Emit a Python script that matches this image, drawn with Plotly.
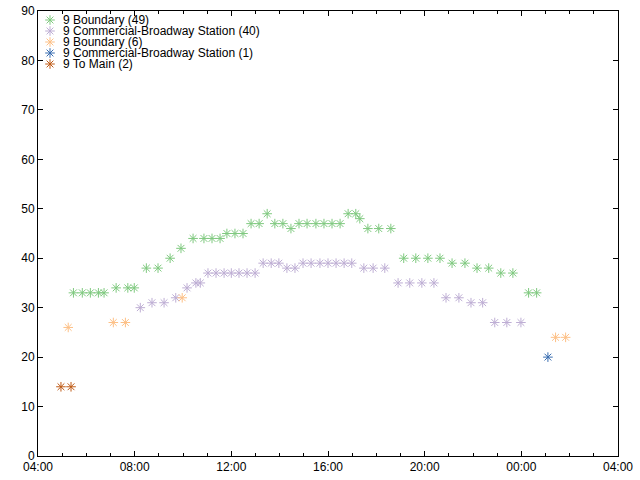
import datetime as dt
import plotly.graph_objects as go

# ---- data ----
series_names = [
    "9 Boundary (49)",
    "9 Commercial-Broadway Station (40)",
    "9 Boundary (6)",
    "9 Commercial-Broadway Station (1)",
    "9 To Main (2)",
]
series_colors = ["#7fc97f", "#beaed4", "#fdc086", "#386cb0", "#bf5b17"]

boundary49_times = [
    "05:28", "05:50", "06:10", "06:30", "06:44", "07:14", "07:43", "07:59",
    "08:29", "08:58", "09:28", "09:55", "10:25", "10:52", "11:12", "11:32",
    "11:49", "12:09", "12:29", "12:49", "13:09", "13:29", "13:48", "14:08",
    "14:28", "14:48", "15:08", "15:30", "15:50", "16:10", "16:30", "16:50",
    "17:09", "17:19", "17:39", "18:06", "18:36", "19:08", "19:38", "20:08",
    "20:38", "21:08", "21:40", "22:10", "22:39", "23:09", "23:39", "00:18",
    "00:38",
]
boundary49_values = [
    33, 33, 33, 33, 33, 34, 34, 34, 38, 38, 40, 42, 44, 44, 44, 44,
    45, 45, 45, 47, 47, 49, 47, 47, 46, 47, 47, 47, 47, 47, 47, 49,
    49, 48, 46, 46, 46, 40, 40, 40, 40, 39, 39, 38, 38, 37, 37, 33,
    33,
]

commercial40_times = [
    "08:14", "08:43", "09:13", "09:42", "10:10", "10:32", "10:43", "11:02",
    "11:22", "11:42", "12:00", "12:19", "12:39", "12:59", "13:19", "13:39",
    "13:58", "14:18", "14:38", "14:58", "15:18", "15:40", "16:00", "16:20",
    "16:40", "16:59", "17:29", "17:52", "18:21", "18:54", "19:23", "19:53",
    "20:23", "20:53", "21:25", "21:55", "22:24", "22:54", "23:24", "23:59",
]
commercial40_values = [
    30, 31, 31, 32, 34, 35, 35, 37, 37, 37, 37, 37, 37, 37, 39, 39,
    39, 38, 38, 39, 39, 39, 39, 39, 39, 39, 38, 38, 38, 35, 35, 35,
    35, 32, 32, 31, 31, 27, 27, 27,
]

boundary6_times = ["05:15", "07:07", "07:37", "09:58", "01:25", "01:50"]
boundary6_values = [26, 27, 27, 32, 24, 24]

commercial1_times = ["01:06"]
commercial1_values = [20]

tomain2_times = ["04:57", "05:22"]
tomain2_values = [14, 14]

x_tick_labels = ["04:00", "08:00", "12:00", "16:00", "20:00", "00:00", "04:00"]

BASE = dt.datetime(2024, 1, 1)


def to_dt(hhmm):
    h, m = map(int, hhmm.split(":"))
    d = BASE + dt.timedelta(hours=h, minutes=m)
    if h < 4:
        d += dt.timedelta(days=1)
    return d


series = [
    (boundary49_times, boundary49_values),
    (commercial40_times, commercial40_values),
    (boundary6_times, boundary6_values),
    (commercial1_times, commercial1_values),
    (tomain2_times, tomain2_values),
]

W, H = 640, 480
ML, MR, MT, MB = 38, 22, 11, 24
PW, PH = W - ML - MR, H - MT - MB

fig = go.Figure()
for name, color, (ts, vs) in zip(series_names, series_colors, series):
    fig.add_trace(go.Scatter(
        x=[to_dt(t) for t in ts], y=vs, mode="markers", name=name,
        showlegend=False,
        marker=dict(symbol="asterisk-open", size=8, color=color,
                    line=dict(color=color, width=1)),
    ))

# ---- custom compact key (gnuplot style), on a hidden overlay axis ----
key_sym_px, key_txt_px, key_top_px, key_step_px = 50, 62, 20, 11
key_x = (key_sym_px - ML) / PW
key_ys = [1 - (key_top_px + key_step_px * i - MT) / PH for i in range(len(series_names))]
fig.add_trace(go.Scatter(
    x=[key_x] * len(series_names), y=key_ys, mode="markers",
    xaxis="x2", yaxis="y2", showlegend=False, hoverinfo="skip",
    marker=dict(symbol="asterisk-open", size=8, color=series_colors,
                line=dict(color=series_colors, width=1)),
))
for name, ky in zip(series_names, key_ys):
    fig.add_annotation(
        x=(key_txt_px - ML) / PW, y=ky, xref="paper", yref="paper",
        text=name, showarrow=False, xanchor="left", yanchor="middle",
        borderpad=0,
        font=dict(family="Liberation Sans, Arial, sans-serif", size=12, color="#000"),
    )

x0 = BASE + dt.timedelta(hours=4)
x1 = BASE + dt.timedelta(hours=28)
tickvals = [x0 + dt.timedelta(hours=4 * i) for i in range(len(x_tick_labels))]

font = dict(family="Liberation Sans, Arial, sans-serif", size=12, color="#000")
fig.update_layout(
    width=W, height=H,
    margin=dict(l=ML, r=MR, t=MT, b=MB, autoexpand=False),
    plot_bgcolor="white", paper_bgcolor="white",
    font=font,
    showlegend=False,
    xaxis=dict(range=[x0, x1], tickvals=tickvals, ticktext=x_tick_labels,
               showgrid=False, zeroline=False, automargin=False,
               showline=True, linecolor="black", linewidth=1, mirror="ticks",
               ticks="inside", ticklen=5, tickcolor="black",
               minor=dict(dtick=3600000, ticks="inside", ticklen=3,
                          tickcolor="black", showgrid=False)),
    yaxis=dict(range=[0, 90], dtick=10, tick0=0,
               showgrid=False, zeroline=False, automargin=False,
               showline=True, linecolor="black", linewidth=1, mirror="ticks",
               ticks="inside", ticklen=5, tickcolor="black"),
    xaxis2=dict(overlaying="x", range=[0, 1], visible=False, fixedrange=True),
    yaxis2=dict(overlaying="y", range=[0, 1], visible=False, fixedrange=True),
)

fig.write_html(
    "out.html",
    config={"displayModeBar": False},
    post_script="document.body.style.margin='0';document.body.style.overflow='hidden';",
)
